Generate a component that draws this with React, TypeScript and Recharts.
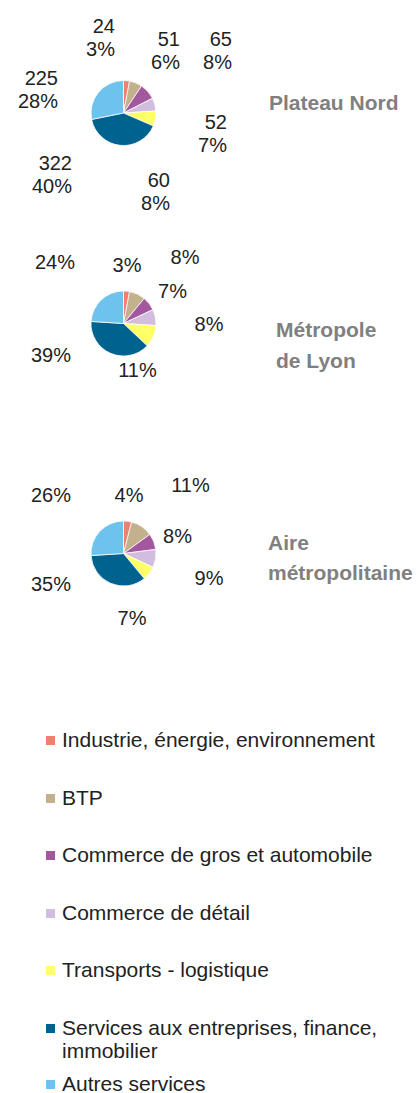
import React from 'react'
import { PieChart, Pie, Cell } from 'recharts'

const CATEGORIES = [
  'Industrie, énergie, environnement',
  'BTP',
  'Commerce de gros et automobile',
  'Commerce de détail',
  'Transports - logistique',
  'Services aux entreprises, finance, immobilier',
  'Autres services',
]

const PLATEAU_VALUES = [24, 51, 65, 52, 60, 322, 225]
const PLATEAU_PCT = [3, 6, 8, 7, 8, 40, 28]
const LYON_PCT = [3, 8, 7, 8, 11, 39, 24]
const AIRE_PCT = [4, 11, 8, 9, 7, 35, 26]

const COLORS = ['#f07f6c', '#c3b18d', '#a2579f', '#d3bddf', '#ffff66', '#00628f', '#6ec3ee']

// label offsets from the pie centre (hand-placed in the original)
const PLATEAU_OFFSETS = [[-8.5, -87], [56.5, -74], [108.5, -74], [103.5, 9], [46.5, 67], [-51.5, 50], [-65.5, -35]]
const LYON_OFFSETS = [[3.5, -58.5], [61.5, -66.5], [49, -32.5], [85.5, 0.5], [14, 46.5], [-72.5, 31.5], [-68.5, -61.5]]
const AIRE_OFFSETS = [[5.5, -58.5], [67, -68.5], [54, -17.5], [85.5, 24.5], [8.5, 64.5], [-72.5, 30.5], [-72.5, -58.5]]

const FONT = '"Liberation Sans", Arial, sans-serif'
const R = 32.5

const plateauData = CATEGORIES.map((name, i) => ({ name, value: PLATEAU_VALUES[i], pct: PLATEAU_PCT[i] }))
const lyonData = CATEGORIES.map((name, i) => ({ name, value: LYON_PCT[i], pct: LYON_PCT[i] }))
const aireData = CATEGORIES.map((name, i) => ({ name, value: AIRE_PCT[i], pct: AIRE_PCT[i] }))

function makeLabel(offsets: number[][], twoLines: boolean) {
  return (props: any) => {
    const { cx, cy, index, payload } = props
    const [dx, dy] = offsets[index]
    const x = cx + dx
    const lines = twoLines ? [String(payload.value), `${payload.pct}%`] : [`${payload.pct}%`]
    return (
      <text
        key={`l-${index}`}
        x={x}
        y={cy + dy}
        textAnchor={twoLines ? 'end' : 'middle'}
        dominantBaseline="central"
        fontSize={20}
        fontFamily={FONT}
        fill="#222"
      >
        {lines.map((l, k) => (
          <tspan key={k} x={x} dy={k === 0 ? 0 : 23}>
            {l}
          </tspan>
        ))}
      </text>
    )
  }
}

const titleStyle: React.CSSProperties = {
  position: 'absolute',
  fontFamily: FONT,
  fontWeight: 'bold',
  fontSize: 21,
  color: '#808080',
  whiteSpace: 'nowrap',
}

export default function App() {
  const pies = [
    { data: plateauData, cy: 113, offsets: PLATEAU_OFFSETS, two: true },
    { data: lyonData, cy: 323.5, offsets: LYON_OFFSETS, two: false },
    { data: aireData, cy: 553.5, offsets: AIRE_OFFSETS, two: false },
  ]
  return (
    <div style={{ position: 'absolute', left: 0, top: 0, width: 417, height: 1093, background: '#fff' }}>
      <PieChart width={417} height={660} margin={{ top: 0, right: 0, bottom: 0, left: 0 }}>
        {pies.map((p, pi) => (
          <Pie
            key={pi}
            data={p.data}
            dataKey="value"
            cx={123.5}
            cy={p.cy}
            outerRadius={R}
            startAngle={90}
            endAngle={-270}
            stroke="#fff"
            strokeWidth={0.75}
            isAnimationActive={false}
            labelLine={false}
            label={makeLabel(p.offsets, p.two)}
          >
            {p.data.map((d, i) => (
              <Cell key={i} fill={COLORS[i]} />
            ))}
          </Pie>
        ))}
      </PieChart>

      <div style={{ ...titleStyle, left: 269, top: 103 - 12, lineHeight: '24px' }}>Plateau Nord</div>
      <div style={{ ...titleStyle, left: 276, top: 329 - 15.5, lineHeight: '31px' }}>
        Métropole
        <br />
        de Lyon
      </div>
      <div style={{ ...titleStyle, left: 268, top: 543 - 15, lineHeight: '30px' }}>
        Aire
        <br />
        métropolitaine
      </div>

      <div style={{ position: 'absolute', left: 46, top: 728, fontFamily: FONT, fontSize: 21, color: '#222' }}>
        {CATEGORIES.map((c, i) => (
          <div
            key={c}
            style={{ display: 'flex', alignItems: 'flex-start', height: i === 5 ? 56 : 57.5, lineHeight: '23px' }}
          >
            <span style={{ width: 9, height: 9, background: COLORS[i], marginTop: 8, marginRight: 7, flexShrink: 0 }} />
            <span style={{ width: 330 }}>{c}</span>
          </div>
        ))}
      </div>
    </div>
  )
}
